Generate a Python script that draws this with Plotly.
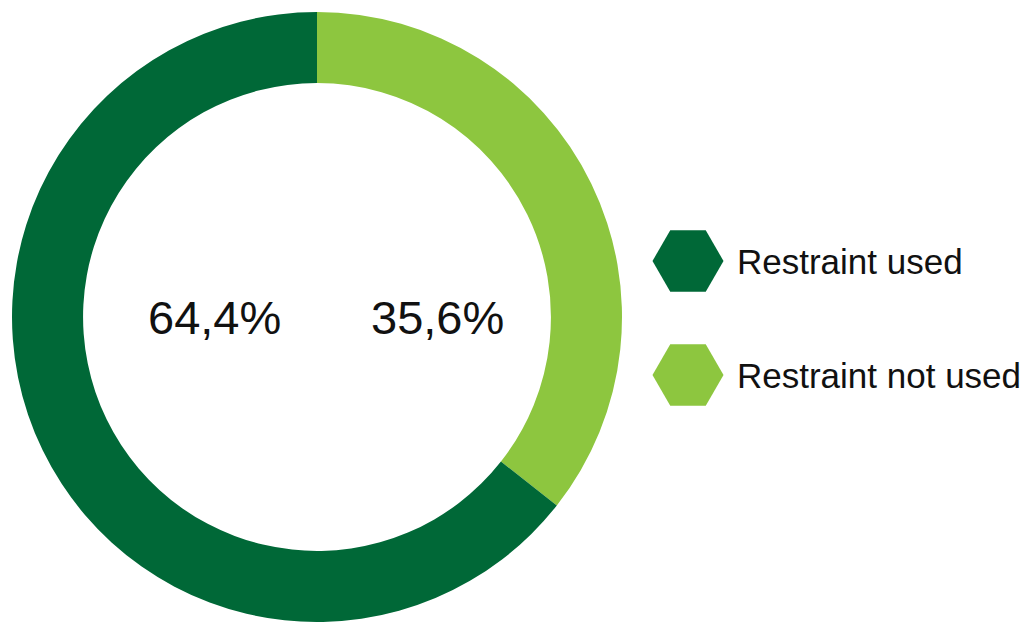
import plotly.graph_objects as go

labels = ["Restraint not used", "Restraint used"]
values = [35.6, 64.4]
colors = ["#8DC63F", "#006837"]
pct_text = ["35,6%", "64,4%"]
legend_order = ["Restraint used", "Restraint not used"]

W, H = 1021, 622
FONT = "Helvetica Neue, Liberation Sans, Arial, sans-serif"

fig = go.Figure()
fig.add_trace(go.Pie(
    labels=labels, values=values, sort=False, direction="clockwise", rotation=0,
    hole=0.767, marker=dict(colors=colors, line=dict(width=0)),
    textinfo="none", hoverinfo="label+value", showlegend=False,
    domain=dict(x=[12 / W, 622 / W], y=[0, 610 / H]),
))

# legend hexagons
leg_y = [261, 375]
col_map = dict(zip(labels, colors))
fig.add_trace(go.Scatter(
    x=[688] * len(legend_order), y=leg_y, mode="markers",
    marker=dict(symbol="hexagon2", size=71, color=[col_map[l] for l in legend_order], line=dict(width=0)),
    showlegend=False, hoverinfo="skip",
))

annotations = []
for lab, yy in zip(legend_order, leg_y):
    annotations.append(dict(x=735, y=yy, xref="x", yref="y", text=lab, showarrow=False,
                            xanchor="left", yanchor="middle",
                            font=dict(family=FONT, size=35, color="#111111")))
txt_map = dict(zip(labels, pct_text))
for lab, xx in zip(["Restraint used", "Restraint not used"], [214, 437]):
    annotations.append(dict(x=xx, y=317, xref="x", yref="y", text=txt_map[lab], showarrow=False,
                            xanchor="center", yanchor="middle",
                            font=dict(family=FONT, size=47, color="#111111")))

fig.update_layout(
    width=W, height=H, margin=dict(l=0, r=0, t=0, b=0),
    paper_bgcolor="white", plot_bgcolor="rgba(0,0,0,0)",
    xaxis=dict(range=[0, W], visible=False, domain=[0, 1], fixedrange=True),
    yaxis=dict(range=[H, 0], visible=False, domain=[0, 1], fixedrange=True),
    annotations=annotations,
)

fig.write_html("out.html", config={"displayModeBar": False},
               post_script="document.body.style.margin='0';document.body.style.overflow='hidden';")
